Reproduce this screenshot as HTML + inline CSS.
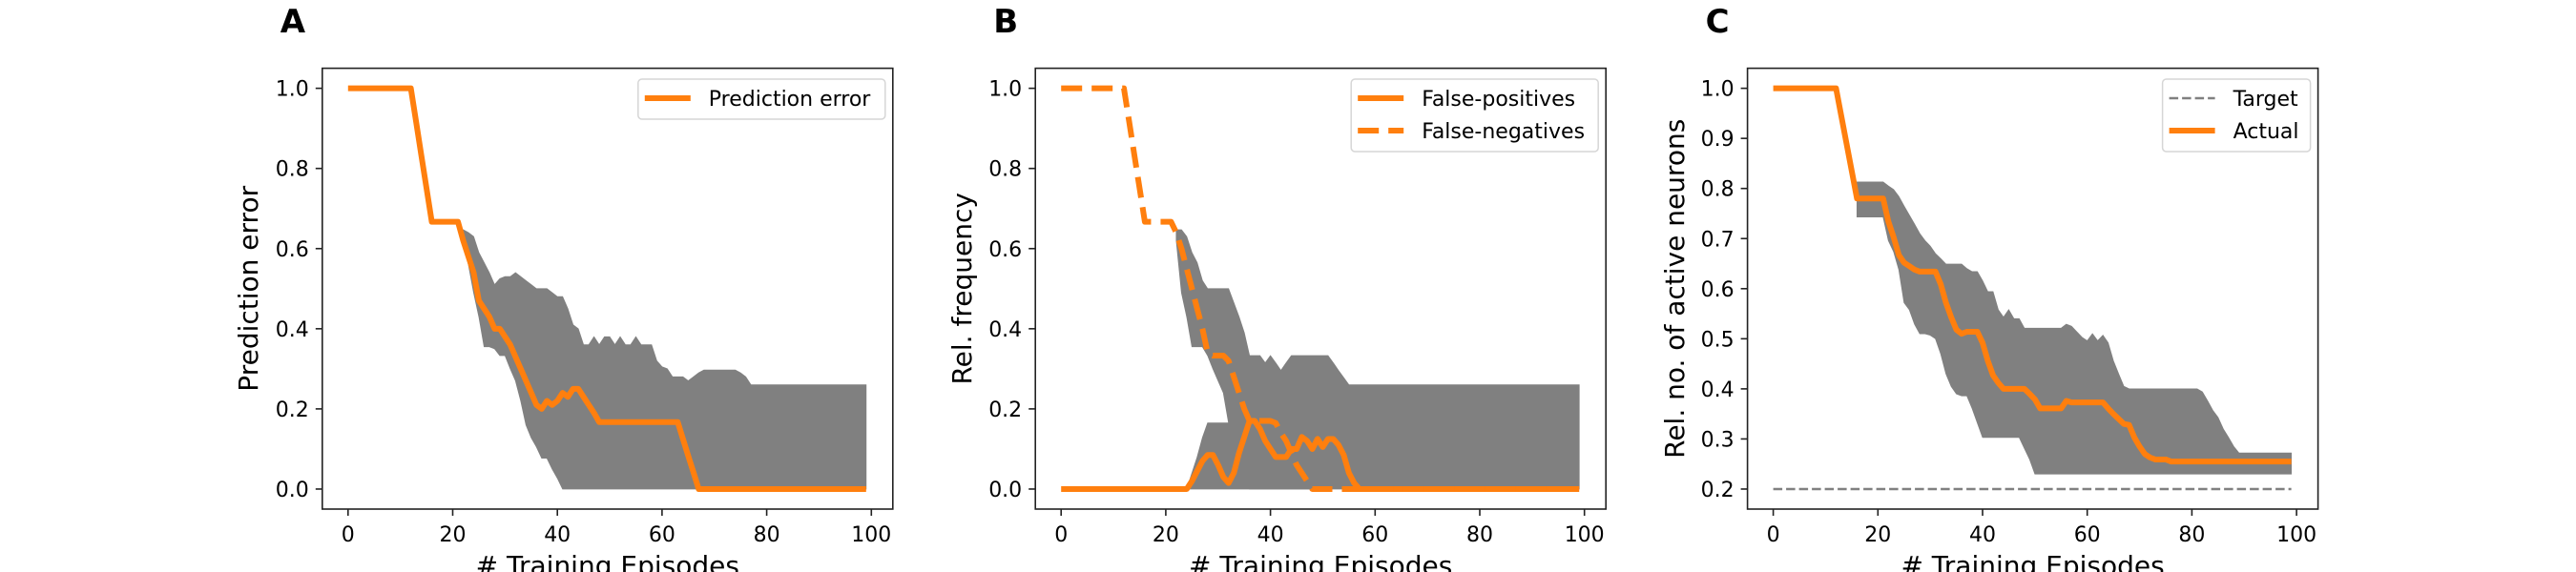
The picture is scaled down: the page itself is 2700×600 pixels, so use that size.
<!DOCTYPE html>
<html><head><meta charset="utf-8">
<style>
html,body{margin:0;padding:0;background:#fff;}
svg{display:block;font-family:"DejaVu Sans","Liberation Sans",sans-serif;}
</style></head>
<body>
<svg id="fig" width="2700" height="600" viewBox="0 0 2700 600" xmlns="http://www.w3.org/2000/svg"></svg>
<script>
const R=(n,v)=>Array(n).fill(v);
// Panel A data
const aMean=[...R(13,1),0.917,0.833,0.75,...R(6,0.667),0.62,0.58,0.54,0.47,0.45,0.43,0.40,0.40,0.38,0.36,0.33,0.30,0.27,0.24,0.21,0.20,0.22,0.21,0.22,0.24,0.23,0.25,0.25,0.23,0.21,0.19,...R(16,0.167),0.125,0.083,0.042,...R(33,0)];
const aBandStart=22;
const aUpper=[0.647,0.64,0.63,0.59,0.565,0.54,0.51,0.525,0.53,0.53,0.54,0.53,0.52,0.51,0.50,0.50,0.50,0.49,0.48,0.48,0.45,0.41,0.40,0.36,0.36,0.38,0.36,0.38,0.38,0.36,0.38,0.36,0.36,0.38,0.36,0.36,0.36,0.32,0.305,0.30,0.28,0.28,0.28,0.27,0.28,0.29,...R(7,0.297),0.29,0.28,...R(23,0.26)];
const aLower=[0.62,0.56,0.49,0.43,0.355,0.355,0.35,0.333,0.333,0.30,0.27,0.22,0.16,0.128,0.105,0.077,0.077,0.05,0.027,...R(59,0)];
// Panel B data
const bFP=[...R(25,0),0.02,0.045,0.07,0.085,0.085,0.06,0.03,0.015,0.04,0.09,0.13,0.17,0.17,0.15,0.12,0.10,0.08,0.08,0.08,0.10,0.10,0.13,0.12,0.10,0.125,0.105,0.125,0.125,0.11,0.085,0.04,0.015,...R(43,0)];
const bFN=[...R(13,1),0.917,0.833,0.75,...R(6,0.667),0.64,0.6,0.55,0.5,0.45,0.40,0.34,0.333,0.333,0.333,0.32,0.28,0.24,0.2,...R(5,0.17),0.165,0.14,0.12,0.09,0.06,0.04,0.02,...R(52,0)];
const bFNBandStart=22;
const bFNUpper=[0.647,0.647,0.63,0.59,0.565,0.52,0.5,0.5,0.5,0.5,0.5,0.465,0.43,0.39,0.333,0.30,0.26,0.22,0.20,0.17,0.14,0.11,0.08,0.05,0.03,0.01,0];
const bFNLower=[0.62,0.49,0.43,0.355,0.355,0.355,0.333,0.30,0.27,0.24,0.165,0.12,0.08,0.04,0,...R(12,0)];
const bFPBandStart=24;
const bFPUpper=[0,0.04,0.08,0.128,...R(5,0.165),0.2,0.26,0.30,0.333,0.333,0.333,0.315,0.333,0.315,0.296,0.315,...R(8,0.333),0.315,0.296,0.278,...R(45,0.26)];
const bFPLower=R(76,0);
// Panel C data
const cMean=[...R(13,1),0.945,0.89,0.835,...R(6,0.78),0.734,0.703,0.667,0.652,0.645,0.638,0.634,0.634,0.634,0.634,0.609,0.572,0.543,0.518,0.51,0.514,0.514,0.514,0.492,0.456,0.427,0.412,...R(5,0.40),0.39,0.379,...R(5,0.361),0.376,...R(7,0.373),0.361,0.35,0.34,0.33,0.328,0.303,0.285,0.27,0.263,0.259,0.259,0.259,...R(24,0.255)];
const cBandStart=16;
const cUpper=[...R(6,0.813),0.805,0.798,0.784,0.765,0.747,0.729,0.71,0.696,0.685,0.67,0.66,...R(4,0.649),0.64,0.634,0.634,0.616,0.594,0.594,0.558,0.543,0.558,0.54,0.54,...R(8,0.521),0.529,0.525,0.514,0.503,0.496,0.51,0.496,0.507,0.492,0.456,0.43,0.405,...R(14,0.40),0.394,0.376,0.357,0.343,0.32,0.303,0.285,0.272,...R(10,0.272)];
const cLower=[...R(6,0.743),0.696,0.674,0.638,0.572,0.558,0.529,0.51,0.51,0.507,0.5,0.47,0.43,0.405,0.39,0.386,0.386,0.361,0.332,0.303,...R(7,0.303),0.281,0.259,0.23,...R(49,0.23)];
const cTarget=R(100,0.2);
const xTicks=[0,20,40,60,80,100];
const yTicksAB=[0,0.2,0.4,0.6,0.8,1.0];
const yTicksC=[0.2,0.3,0.4,0.5,0.6,0.7,0.8,0.9,1.0];

const NS="http://www.w3.org/2000/svg";
const svg=document.getElementById('fig');
function mk(tag,attrs,parent){const e=document.createElementNS(NS,tag);for(const k in attrs)e.setAttribute(k,attrs[k]);(parent||svg).appendChild(e);return e;}

function panel(o){
  const g=mk('g',{});
  
  
  const L=o.left,T=71.6,W=598,H=462.4;
  const sx=v=>L+27+(v)*(548.5/100);
  const yr=o.ylim;
  const sy=v=>T+H-(v-yr[0])/(yr[1]-yr[0])*H;
  // letter
  const lt=mk('text',{x:o.left-44,y:34,'font-size':34,'font-weight':'bold','font-family':'"DejaVu Sans","Liberation Sans",sans-serif'},g);
  lt.textContent=o.letter;
  
  
  // bands
  o.bands.forEach(b=>{
    let d='';
    b.up.forEach((v,i)=>{d+=(i?'L':'M')+sx(b.start+i).toFixed(2)+','+sy(v).toFixed(2);});
    for(let i=b.lo.length-1;i>=0;i--)d+='L'+sx(b.start+i).toFixed(2)+','+sy(b.lo[i]).toFixed(2);
    const p=mk('path',{d:d+'Z',fill:'#808080',stroke:'#808080','stroke-width':0.8},g);
    
    
  });
  // lines
  o.lines.forEach(ln=>{
    const pts=ln.data.map((v,i)=>sx(i).toFixed(2)+','+sy(v).toFixed(2)).join(' ');
    const a={points:pts,fill:'none',stroke:ln.color,'stroke-width':ln.w,'stroke-linejoin':'round'};
    if(ln.dash)a['stroke-dasharray']=ln.dash;
    const p=mk('polyline',a,g);
    
    
  });
  // frame
  const fr=mk('rect',{x:L,y:T,width:W,height:H,fill:'none',stroke:'#222','stroke-width':1.6},g);
  
  
  // x ticks
  xTicks.forEach(t=>{
    const x=sx(t);
    const tk=mk('line',{x1:x,x2:x,y1:T+H,y2:T+H+7,stroke:'#222','stroke-width':1.6},g);
    
    
    const tx=mk('text',{x:x,y:568,'font-size':22,'text-anchor':'middle'},g);
    tx.textContent=String(t);
    
    
  });
  o.yticks.forEach(t=>{
    const y=sy(t);
    const tk=mk('line',{x1:L-7,x2:L,y1:y,y2:y,stroke:'#222','stroke-width':1.6},g);
    
    
    const tx=mk('text',{x:L-14,y:y+8,'font-size':22,'text-anchor':'end'},g);
    tx.textContent=t.toFixed(1);
    
    
  });
  const xl=mk('text',{x:L+W/2,y:603,'font-size':28,'text-anchor':'middle'},g);
  xl.textContent='# Training Episodes';
  
  
  const yl=mk('text',{x:0,y:0,'font-size':28,'text-anchor':'middle',transform:`translate(${o.ylabX},${T+H/2}) rotate(-90)`},g);
  yl.textContent=o.ylabel;
  
  
  // legend
  const lg=mk('g',{},g);
  
  
  const n=o.legend.length;
  const lx=L+W-8-o.legW;
  mk('rect',{x:lx,y:83,width:o.legW,height:n===1?42:76,rx:4,fill:'#fff','fill-opacity':0.8,stroke:'#d6d6d6','stroke-width':1.5},lg);
  o.legend.forEach((e,i)=>{
    const y=103+i*34;
    const a={x1:lx+7,x2:lx+55,y1:y,y2:y,stroke:e.color,'stroke-width':e.w};
    if(e.dash)a['stroke-dasharray']=e.dash;
    const l=mk('line',a,lg);
    
    
    const t=mk('text',{x:lx+74,y:y+8,'font-size':22},lg);
    t.textContent=e.label;
    
    
  });
}
const OR='#ff7f0e';
panel({name:'panel-a',letter:'A',left:337.8,ylim:[-0.05,1.05],yticks:yTicksAB,ylabel:'Prediction error',ylabX:270,legW:259,
  bands:[{start:aBandStart,up:aUpper,lo:aLower}],
  lines:[{name:'prediction-error-line',data:aMean,color:OR,w:6}],
  legend:[{label:'Prediction error',color:OR,w:6}]});
panel({name:'panel-b',letter:'B',left:1085.2,ylim:[-0.05,1.05],yticks:yTicksAB,ylabel:'Rel. frequency',ylabX:1018,legW:259,
  bands:[{start:bFNBandStart,up:bFNUpper,lo:bFNLower},{start:bFPBandStart,up:bFPUpper,lo:bFPLower}],
  lines:[{name:'false-positives-line',data:bFP,color:OR,w:6},{name:'false-negatives-line',data:bFN,color:OR,w:6,dash:'22 10'}],
  legend:[{label:'False-positives',color:OR,w:6},{label:'False-negatives',color:OR,w:6,dash:'22 10'}]});
panel({name:'panel-c',letter:'C',left:1831.6,ylim:[0.16,1.04],yticks:yTicksC,ylabel:'Rel. no. of active neurons',ylabX:1765,legW:155,
  bands:[{start:cBandStart,up:cUpper,lo:cLower}],
  lines:[{name:'target-line',data:cTarget,color:'#808080',w:2.5,dash:'9.5 4'},{name:'actual-line',data:cMean,color:OR,w:6}],
  legend:[{label:'Target',color:'#808080',w:2.5,dash:'9.5 4'},{label:'Actual',color:OR,w:6}]});
</script>
</body></html>
